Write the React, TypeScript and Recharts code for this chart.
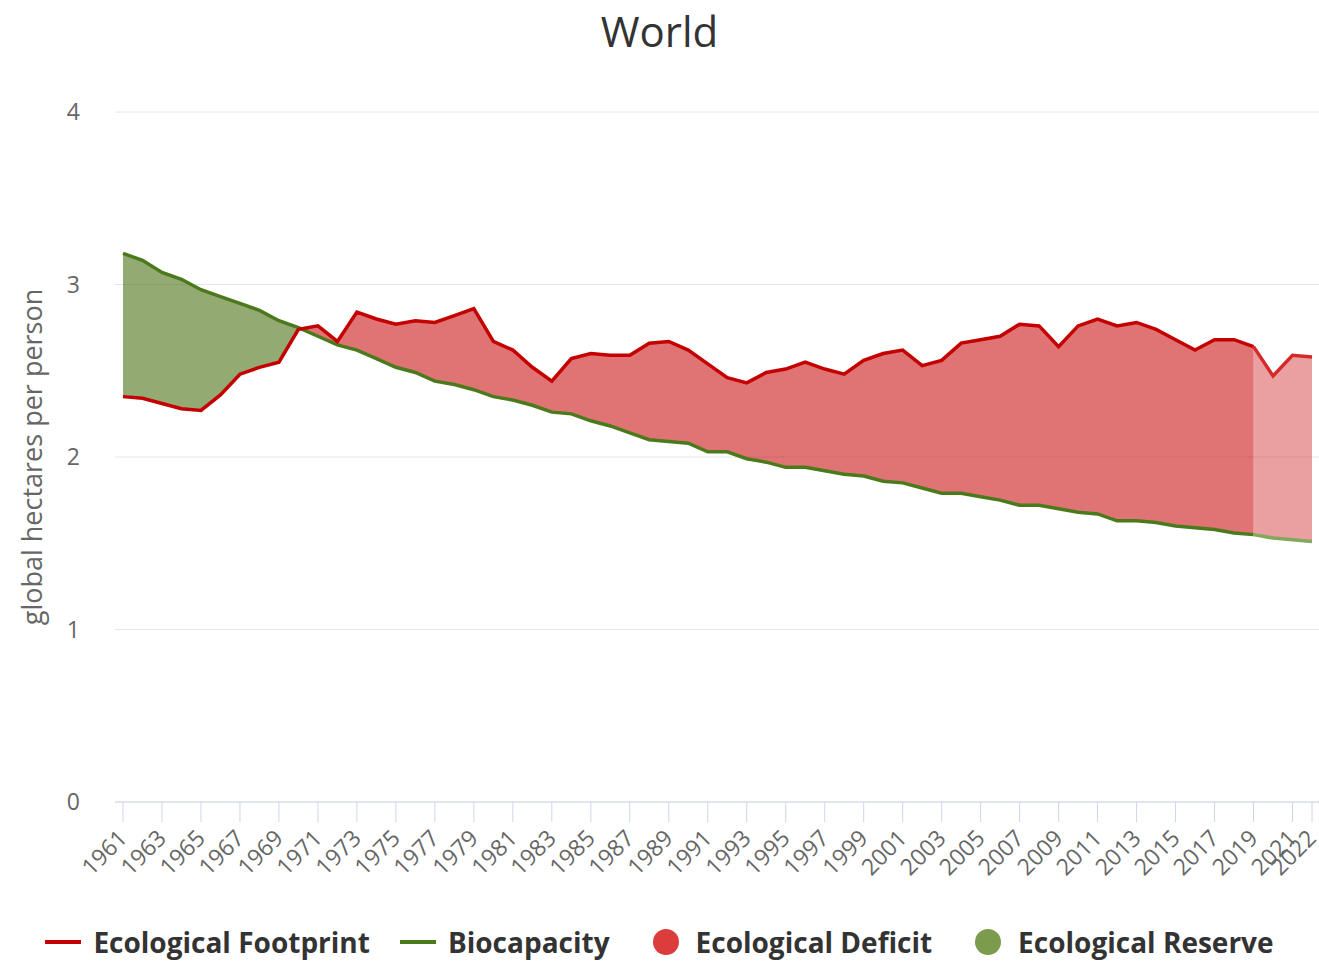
import React from 'react';
import { AreaChart, Area, Line, XAxis, YAxis, CartesianGrid, Legend, Label } from 'recharts';

const years = [
  1961, 1962, 1963, 1964, 1965, 1966, 1967, 1968, 1969, 1970,
  1971, 1972, 1973, 1974, 1975, 1976, 1977, 1978, 1979, 1980,
  1981, 1982, 1983, 1984, 1985, 1986, 1987, 1988, 1989, 1990,
  1991, 1992, 1993, 1994, 1995, 1996, 1997, 1998, 1999, 2000,
  2001, 2002, 2003, 2004, 2005, 2006, 2007, 2008, 2009, 2010,
  2011, 2012, 2013, 2014, 2015, 2016, 2017, 2018, 2019, 2020,
  2021, 2022,
];

// global hectares per person
const footprint = [
  2.35, 2.34, 2.31, 2.28, 2.27, 2.36, 2.48, 2.52, 2.55, 2.74,
  2.76, 2.67, 2.84, 2.80, 2.77, 2.79, 2.78, 2.82, 2.86, 2.67,
  2.62, 2.52, 2.44, 2.57, 2.60, 2.59, 2.59, 2.66, 2.67, 2.62,
  2.54, 2.46, 2.43, 2.49, 2.51, 2.55, 2.51, 2.48, 2.56, 2.60,
  2.62, 2.53, 2.56, 2.66, 2.68, 2.70, 2.77, 2.76, 2.64, 2.76,
  2.80, 2.76, 2.78, 2.74, 2.68, 2.62, 2.68, 2.68, 2.64, 2.47,
  2.59, 2.58,
];

const biocapacity = [
  3.18, 3.14, 3.07, 3.03, 2.97, 2.93, 2.89, 2.85, 2.79, 2.75,
  2.70, 2.65, 2.62, 2.57, 2.52, 2.49, 2.44, 2.42, 2.39, 2.35,
  2.33, 2.30, 2.26, 2.25, 2.21, 2.18, 2.14, 2.10, 2.09, 2.08,
  2.03, 2.03, 1.99, 1.97, 1.94, 1.94, 1.92, 1.90, 1.89, 1.86,
  1.85, 1.82, 1.79, 1.79, 1.77, 1.75, 1.72, 1.72, 1.70, 1.68,
  1.67, 1.63, 1.63, 1.62, 1.60, 1.59, 1.58, 1.56, 1.55, 1.53,
  1.52, 1.51,
];

// years after this one are estimates (drawn lighter)
const lastReportedYear = 2019;

const yearTicks = [
  1961, 1963, 1965, 1967, 1969, 1971, 1973, 1975, 1977, 1979,
  1981, 1983, 1985, 1987, 1989, 1991, 1993, 1995, 1997, 1999,
  2001, 2003, 2005, 2007, 2009, 2011, 2013, 2015, 2017, 2019,
  2021, 2022,
];
const valueTicks = [0, 1, 2, 3, 4];

const data = years.map((year, i) => {
  const fp = footprint[i];
  const bio = biocapacity[i];
  const reported = year <= lastReportedYear;
  const estimated = year >= lastReportedYear;
  return {
    year,
    fpMain: reported ? fp : null,
    fpEst: estimated ? fp : null,
    bioMain: reported ? bio : null,
    bioEst: estimated ? bio : null,
    deficit: reported ? [bio, Math.max(fp, bio)] : null,
    deficitEst: estimated ? [bio, Math.max(fp, bio)] : null,
    reserve: [Math.min(fp, bio), bio],
  };
});

const FONT = '"Open Sans", "DejaVu Sans", sans-serif';

const legendItems = [
  { label: 'Ecological Footprint', color: '#c40000', shape: 'line' },
  { label: 'Biocapacity', color: '#4b7a1c', shape: 'line' },
  { label: 'Ecological Deficit', color: '#dc3c3c', shape: 'circle' },
  { label: 'Ecological Reserve', color: '#7c9b4c', shape: 'circle' },
];

const LegendContent = () => (
  <div
    style={{
      display: 'flex',
      justifyContent: 'center',
      alignItems: 'center',
      gap: 30,
      height: 40,
      fontFamily: FONT,
      fontWeight: 700,
      fontSize: 28,
      lineHeight: '30px',
      color: '#333',
      whiteSpace: 'nowrap',
    }}
  >
    {legendItems.map((it) => (
      <div
        key={it.label}
        style={{
          display: 'flex',
          alignItems: 'center',
          gap: it.shape === 'line' ? 12 : 17,
          marginLeft: it.shape === 'line' ? 0 : 13,
        }}
      >
        {it.shape === 'line' ? (
          <span style={{ display: 'inline-block', width: 36, height: 4, background: it.color }} />
        ) : (
          <span
            style={{ display: 'inline-block', width: 26, height: 26, borderRadius: 13, background: it.color }}
          />
        )}
        <span>{it.label}</span>
      </div>
    ))}
  </div>
);

const XTick = (props: any) => {
  const { x, y, payload } = props;
  return (
    <g transform={`translate(${x},${y})`}>
      <text
        x={0}
        y={0}
        dy={8}
        textAnchor="end"
        transform="rotate(-45)"
        fill="#666"
        fontSize={23}
        fontFamily={FONT}
      >
        {payload.value}
      </text>
    </g>
  );
};

const YTitle = (props: any) => {
  const { viewBox } = props;
  const cx = 31;
  const cy = viewBox.y + viewBox.height / 2;
  return (
    <text
      x={cx}
      y={cy}
      transform={`rotate(-90 ${cx} ${cy})`}
      textAnchor="middle"
      dominantBaseline="central"
      fill="#666"
      fontSize={27}
      fontFamily={FONT}
    >
      global hectares per person
    </text>
  );
};

const App: React.FC = () => (
  <div
    style={{
      position: 'absolute',
      left: 0,
      top: 0,
      width: 1319,
      height: 962,
      background: '#fff',
      fontFamily: FONT,
    }}
  >
    <div
      style={{
        position: 'absolute',
        top: 2,
        left: 0,
        width: 1319,
        textAlign: 'center',
        fontSize: 42,
        color: '#333',
      }}
    >
      World
    </div>
    <AreaChart
      width={1319}
      height={962}
      data={data}
      margin={{ top: 112, right: 0, left: 0, bottom: 0 }}
    >
      <CartesianGrid vertical={false} stroke="#e6e6e6" />
      <XAxis
        dataKey="year"
        ticks={yearTicks}
        interval={0}
        height={120}
        padding={{ left: 8, right: 7 }}
        axisLine={{ stroke: '#ccd6eb' }}
        tickLine={{ stroke: '#ccd6eb' }}
        tickSize={20}
        tickMargin={12}
        tick={<XTick />}
      />
      <YAxis
        width={115}
        domain={[0, 4]}
        ticks={valueTicks}
        axisLine={false}
        tickLine={false}
        tickSize={0}
        tickMargin={35}
        tick={{ fill: '#666', fontSize: 23, fontFamily: FONT }}
      >
        <Label content={<YTitle />} />
      </YAxis>
      <Legend verticalAlign="bottom" align="center" content={<LegendContent />} />
      <Area
        type="linear"
        dataKey="reserve"
        stroke="none"
        fill="#3c6400"
        fillOpacity={0.55}
        isAnimationActive={false}
      />
      <Area
        type="linear"
        dataKey="deficit"
        stroke="none"
        fill="#c80a0a"
        fillOpacity={0.57}
        isAnimationActive={false}
      />
      <Area
        type="linear"
        dataKey="deficitEst"
        stroke="none"
        fill="#c80a0a"
        fillOpacity={0.39}
        isAnimationActive={false}
      />
      <Line
        type="linear"
        dataKey="bioMain"
        stroke="#4b7a1c"
        strokeWidth={3.5}
        dot={false}
        activeDot={false}
        isAnimationActive={false}
      />
      <Line
        type="linear"
        dataKey="bioEst"
        stroke="#83a85c"
        strokeWidth={3.5}
        dot={false}
        activeDot={false}
        isAnimationActive={false}
      />
      <Line
        type="linear"
        dataKey="fpMain"
        stroke="#c40000"
        strokeWidth={3.5}
        dot={false}
        activeDot={false}
        isAnimationActive={false}
      />
      <Line
        type="linear"
        dataKey="fpEst"
        stroke="#d42a2a"
        strokeWidth={3.5}
        dot={false}
        activeDot={false}
        isAnimationActive={false}
      />
    </AreaChart>
  </div>
);

export default App;
